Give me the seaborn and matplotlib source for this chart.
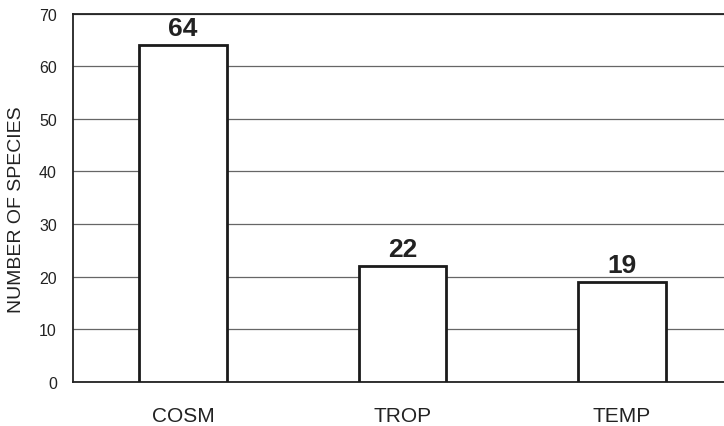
import seaborn as sns
import matplotlib.pyplot as plt
import pandas as pd

categories = ['COSM', 'TROP', 'TEMP']
species = [64, 22, 19]

sns.set_style('white')
plt.rcParams['font.family'] = ['Liberation Sans', 'DejaVu Sans']

df = pd.DataFrame({'group': categories, 'n': species})

fig = plt.figure(figsize=(7.24, 4.27), dpi=100)
ax = fig.add_axes([0.1015, 0.103, 0.8985, 0.863])

sns.barplot(x='group', y='n', data=df, color='white', edgecolor='#1a1a1a',
            linewidth=2, width=0.4, ax=ax, zorder=3)

for i, v in enumerate(species):
    ax.text(i, v + 1.0, str(v), ha='center', va='bottom', fontsize=19,
            fontweight='bold', color='#222222')

ax.set_ylim(0, 70)
ax.set_xlim(-0.5, 2.465)
ax.set_yticks(range(0, 71, 10))
ax.yaxis.grid(True, color='#666666', linewidth=0.9)
ax.set_axisbelow(True)
ax.spines['right'].set_visible(False)
for s in ['left', 'bottom', 'top']:
    ax.spines[s].set_color('#222222')
    ax.spines[s].set_linewidth(1.3)
ax.tick_params(axis='both', length=0, labelsize=11.5, colors='#222222')
ax.tick_params(axis='x', labelsize=15, pad=17)
ax.tick_params(axis='y', pad=12)
ax.set_xlabel('')
ax.set_ylabel('NUMBER OF SPECIES', fontsize=14, color='#222222')
ax.yaxis.set_label_coords(-0.075, 0.47)

fig.savefig('out.png', dpi=100)
